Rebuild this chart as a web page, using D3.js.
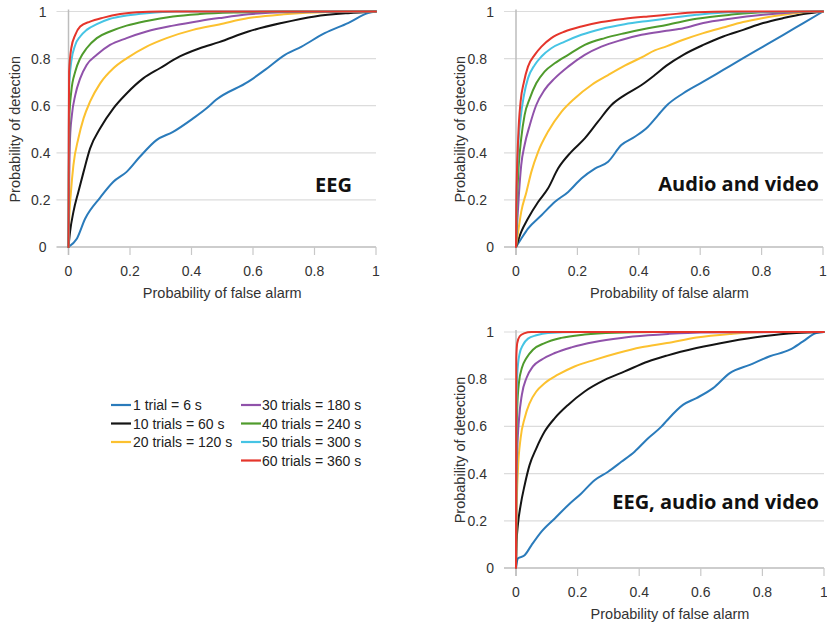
<!DOCTYPE html>
<html>
<head>
<meta charset="utf-8">
<script src="https://cdn.jsdelivr.net/npm/d3@7"></script>
<style>
  html, body { margin: 0; padding: 0; background: #fff; }
  svg { display: block; }
</style>
</head>
<body>
<svg id="chart" width="827" height="626"></svg>
<script>
// ---------------- DATA ----------------
const seriesLabels = ["1 trial = 6 s", "10 trials = 60 s", "20 trials = 120 s",
  "30 trials = 180 s", "40 trials = 240 s", "50 trials = 300 s", "60 trials = 360 s"];
const seriesColors = ["#2a7bbb", "#141414", "#fcc12f", "#9052aa", "#4f9b2c", "#46c4e4", "#e5352b"];
const axisTicks = [0, 0.2, 0.4, 0.6, 0.8, 1];
const tickLabels = ["0", "0.2", "0.4", "0.6", "0.8", "1"];
const panelTitles = ["EEG", "Audio and video", "EEG, audio and video"];
const xTitle = "Probability of false alarm";
const yTitle = "Probability of detection";

// Panel 1: EEG  ([false alarm, detection])
const eeg1 = [[0,0],[0.027,0.035],[0.054,0.12],[0.103,0.21],[0.146,0.277],[0.189,0.319],[0.232,0.383],[0.286,0.454],[0.34,0.489],[0.405,0.546],[0.449,0.589],[0.48,0.625],[0.585,0.702],[0.639,0.752],[0.704,0.816],[0.758,0.851],[0.833,0.908],[0.909,0.951],[0.974,0.993],[1,1]];
const eeg10 = [[0,0],[0.005,0.064],[0.016,0.149],[0.032,0.234],[0.049,0.319],[0.07,0.418],[0.103,0.504],[0.146,0.589],[0.189,0.652],[0.243,0.716],[0.297,0.759],[0.362,0.809],[0.427,0.844],[0.49,0.87],[0.585,0.915],[0.693,0.951],[0.801,0.979],[0.909,0.993],[1,1]];
const eeg20 = [[0,0],[0.002,0.106],[0.008,0.234],[0.016,0.348],[0.032,0.461],[0.049,0.546],[0.07,0.617],[0.103,0.695],[0.146,0.759],[0.189,0.801],[0.254,0.851],[0.319,0.887],[0.405,0.922],[0.49,0.945],[0.585,0.972],[0.7,0.988],[0.85,0.998],[1,1]];
const eeg30 = [[0,0],[0.002,0.25],[0.005,0.461],[0.011,0.56],[0.022,0.645],[0.038,0.716],[0.059,0.773],[0.092,0.816],[0.135,0.858],[0.189,0.887],[0.254,0.915],[0.34,0.94],[0.427,0.96],[0.49,0.972],[0.585,0.988],[0.7,0.997],[1,1]];
const eeg40 = [[0,0],[0.001,0.3],[0.003,0.56],[0.009,0.66],[0.022,0.745],[0.038,0.801],[0.059,0.844],[0.092,0.887],[0.135,0.915],[0.189,0.94],[0.254,0.96],[0.34,0.979],[0.427,0.989],[0.55,0.996],[0.7,1],[1,1]];
const eeg50 = [[0,0],[0.001,0.4],[0.002,0.674],[0.009,0.787],[0.022,0.858],[0.038,0.894],[0.059,0.922],[0.092,0.946],[0.135,0.969],[0.189,0.983],[0.254,0.993],[0.35,1],[1,1]];
const eeg60 = [[0,0],[0.001,0.5],[0.002,0.745],[0.009,0.844],[0.022,0.901],[0.038,0.936],[0.07,0.957],[0.114,0.974],[0.168,0.989],[0.222,0.997],[0.3,1],[1,1]];

// Panel 2: Audio and video
const av1 = [[0,0],[0.017,0.035],[0.039,0.078],[0.083,0.135],[0.126,0.191],[0.17,0.234],[0.213,0.291],[0.257,0.333],[0.3,0.362],[0.343,0.433],[0.387,0.468],[0.43,0.511],[0.463,0.56],[0.49,0.6],[0.545,0.653],[0.61,0.702],[0.675,0.752],[0.74,0.802],[0.805,0.851],[0.871,0.901],[0.936,0.951],[1,1]];
const av10 = [[0,0],[0.017,0.064],[0.039,0.121],[0.072,0.191],[0.104,0.248],[0.137,0.333],[0.18,0.404],[0.224,0.461],[0.267,0.532],[0.311,0.603],[0.354,0.645],[0.409,0.688],[0.452,0.73],[0.49,0.77],[0.545,0.816],[0.61,0.858],[0.675,0.894],[0.74,0.922],[0.805,0.951],[0.871,0.972],[0.936,0.989],[1,1]];
const av20 = [[0,0],[0.007,0.064],[0.017,0.149],[0.034,0.234],[0.05,0.319],[0.072,0.404],[0.104,0.489],[0.148,0.574],[0.191,0.631],[0.246,0.688],[0.3,0.73],[0.354,0.77],[0.409,0.805],[0.452,0.835],[0.49,0.852],[0.545,0.88],[0.61,0.908],[0.675,0.932],[0.74,0.955],[0.805,0.972],[0.871,0.986],[0.936,0.997],[1,1]];
const av30 = [[0,0],[0.004,0.106],[0.01,0.234],[0.017,0.348],[0.028,0.433],[0.045,0.518],[0.066,0.603],[0.093,0.667],[0.126,0.716],[0.17,0.766],[0.224,0.816],[0.278,0.851],[0.343,0.879],[0.409,0.901],[0.49,0.918],[0.545,0.929],[0.61,0.951],[0.697,0.969],[0.805,0.986],[0.91,0.997],[1,1]];
const av40 = [[0,0],[0.003,0.177],[0.009,0.348],[0.017,0.461],[0.028,0.56],[0.045,0.631],[0.066,0.695],[0.093,0.745],[0.126,0.78],[0.17,0.816],[0.224,0.858],[0.289,0.887],[0.354,0.908],[0.43,0.929],[0.49,0.943],[0.588,0.969],[0.697,0.986],[0.805,0.997],[1,1]];
const av50 = [[0,0],[0.002,0.2],[0.007,0.418],[0.015,0.546],[0.026,0.645],[0.039,0.716],[0.061,0.773],[0.083,0.809],[0.115,0.844],[0.159,0.872],[0.213,0.901],[0.278,0.926],[0.354,0.946],[0.43,0.96],[0.49,0.97],[0.588,0.986],[0.697,0.997],[1,1]];
const av60 = [[0,0],[0.001,0.177],[0.007,0.461],[0.015,0.617],[0.026,0.702],[0.039,0.766],[0.061,0.816],[0.083,0.851],[0.115,0.887],[0.159,0.915],[0.213,0.936],[0.278,0.955],[0.354,0.969],[0.43,0.979],[0.49,0.986],[0.588,0.997],[0.7,1],[1,1]];

// Panel 3: EEG, audio and video
const all1 = [[0,0],[0.006,0.04],[0.028,0.054],[0.05,0.096],[0.082,0.153],[0.126,0.21],[0.169,0.266],[0.212,0.316],[0.255,0.372],[0.299,0.408],[0.342,0.45],[0.385,0.493],[0.429,0.55],[0.472,0.599],[0.49,0.625],[0.542,0.691],[0.586,0.72],[0.64,0.762],[0.694,0.826],[0.759,0.861],[0.824,0.897],[0.889,0.925],[0.932,0.96],[0.975,0.996],[1,1]];
const all10 = [[0,0],[0.002,0.11],[0.006,0.181],[0.015,0.266],[0.028,0.351],[0.044,0.436],[0.066,0.507],[0.093,0.578],[0.126,0.635],[0.169,0.691],[0.223,0.748],[0.288,0.797],[0.353,0.833],[0.429,0.875],[0.49,0.9],[0.586,0.932],[0.694,0.96],[0.802,0.982],[0.91,0.996],[1,1]];
const all20 = [[0,0],[0.002,0.238],[0.006,0.408],[0.015,0.55],[0.028,0.635],[0.044,0.698],[0.066,0.748],[0.093,0.783],[0.136,0.819],[0.19,0.854],[0.255,0.882],[0.331,0.911],[0.407,0.935],[0.49,0.953],[0.586,0.977],[0.694,0.992],[0.8,1],[1,1]];
const all30 = [[0,0],[0.001,0.323],[0.004,0.493],[0.01,0.635],[0.019,0.734],[0.034,0.805],[0.055,0.854],[0.082,0.882],[0.126,0.911],[0.18,0.935],[0.255,0.958],[0.342,0.975],[0.429,0.986],[0.494,0.992],[0.6,0.998],[1,1]];
const all40 = [[0,0],[0.001,0.465],[0.004,0.677],[0.01,0.79],[0.019,0.847],[0.034,0.89],[0.055,0.925],[0.093,0.953],[0.147,0.975],[0.223,0.989],[0.32,0.997],[0.45,1],[1,1]];
const all50 = [[0,0],[0.001,0.606],[0.004,0.819],[0.011,0.904],[0.023,0.946],[0.039,0.972],[0.066,0.986],[0.104,0.996],[0.2,1],[1,1]];
const all60 = [[0,0],[0.001,0.89],[0.004,0.953],[0.012,0.982],[0.026,0.994],[0.05,1],[1,1]];

const panelSeries = [
  [eeg1, eeg10, eeg20, eeg30, eeg40, eeg50, eeg60],
  [av1, av10, av20, av30, av40, av50, av60],
  [all1, all10, all20, all30, all40, all50, all60]
];

// ---------------- LAYOUT ----------------
const panels = [
  { x0: 68.5, x1: 376, y0: 247, y1: 11.5, labGap: 18, intGap: 22, yTitleX: 15, titleRight: 352, titleBase: 192 },
  { x0: 516, x1: 823, y0: 247, y1: 11.5, labGap: 29, intGap: 22, yTitleX: 460, titleRight: 819, titleBase: 191 },
  { x0: 516, x1: 824, y0: 568, y1: 332, labGap: 29, intGap: 22, yTitleX: 460, titleRight: 819, titleBase: 509 }
];

const svg = d3.select("#chart");
const FONT = "'Liberation Sans', Arial, Helvetica, sans-serif";

panels.forEach((p, pi) => {
  const x = d3.scaleLinear().domain([0, 1]).range([p.x0, p.x1]);
  const y = d3.scaleLinear().domain([0, 1]).range([p.y0, p.y1]);
  const g = svg.append("g");

  // horizontal gridlines
  g.selectAll("line.grid").data(axisTicks.filter(t => t > 0)).join("line")
    .attr("x1", p.x0 - 12).attr("x2", p.x1)
    .attr("y1", d => y(d)).attr("y2", d => y(d))
    .attr("stroke", "#dcdcdc").attr("stroke-width", 1.2);

  // x axis baseline + ticks
  g.append("line").attr("x1", p.x0 - 12).attr("x2", p.x1).attr("y1", y(0)).attr("y2", y(0))
    .attr("stroke", "#bdbdbd").attr("stroke-width", 1.5);
  g.selectAll("line.xt").data(axisTicks).join("line")
    .attr("x1", d => x(d)).attr("x2", d => x(d))
    .attr("y1", y(0)).attr("y2", y(0) + 8)
    .attr("stroke", "#c8c8c8").attr("stroke-width", 1.2);
  // y axis line
  g.append("line").attr("x1", x(0)).attr("x2", x(0)).attr("y1", y(1) - 2).attr("y2", y(0) + 8)
    .attr("stroke", "#bdbdbd").attr("stroke-width", 1.5);

  // tick labels
  g.selectAll("text.xl").data(axisTicks).join("text")
    .attr("x", d => x(d)).attr("y", y(0) + 29)
    .attr("text-anchor", "middle").attr("font-family", FONT).attr("font-size", 14)
    .attr("fill", "#333").text((d, i) => tickLabels[i]);
  g.selectAll("text.yl").data(axisTicks).join("text")
    .attr("x", (d, i) => p.x0 - (Number.isInteger(d) ? p.intGap : p.labGap))
    .attr("y", d => y(d) + 5)
    .attr("text-anchor", "end").attr("font-family", FONT).attr("font-size", 14)
    .attr("fill", "#333").text((d, i) => tickLabels[i]);

  // axis titles
  g.append("text").attr("x", (p.x0 + p.x1) / 2).attr("y", y(0) + 51)
    .attr("text-anchor", "middle").attr("font-family", FONT).attr("font-size", 14.5)
    .attr("fill", "#333").text(xTitle);
  g.append("text")
    .attr("transform", `translate(${p.yTitleX + 5},${(p.y0 + p.y1) / 2}) rotate(-90)`)
    .attr("text-anchor", "middle").attr("font-family", FONT).attr("font-size", 14.5)
    .attr("fill", "#333").text(yTitle);

  // curves
  const line = d3.line().x(d => x(d[0])).y(d => y(d[1])).curve(d3.curveMonotoneX);
  panelSeries[pi].forEach((s, si) => {
    g.append("path").datum(s).attr("d", line)
      .attr("fill", "none").attr("stroke", seriesColors[si])
      .attr("stroke-width", 2).attr("stroke-linejoin", "round").attr("stroke-linecap", "round");
  });

  // panel title
  g.append("text").attr("x", p.titleRight).attr("y", p.titleBase)
    .attr("text-anchor", "end").attr("font-family", "'Open Sans', 'DejaVu Sans', sans-serif")
    .attr("font-weight", 700).attr("font-size", 20).attr("fill", "#111")
    .text(panelTitles[pi]);
});

// ---------------- LEGEND ----------------
const legendCols = [{ lx: 111, tx: 133 }, { lx: 241, tx: 262 }];
const legendRows = [405, 423.5, 442, 460.5];
const legendItems = seriesLabels.map((lab, i) => ({
  lab, color: seriesColors[i],
  col: i < 3 ? 0 : 1, row: i < 3 ? i : i - 3
}));
const lg = svg.append("g");
legendItems.forEach(it => {
  const c = legendCols[it.col], yy = legendRows[it.row];
  lg.append("line").attr("x1", c.lx).attr("x2", c.lx + 20).attr("y1", yy).attr("y2", yy)
    .attr("stroke", it.color).attr("stroke-width", 2.2);
  lg.append("text").attr("x", c.tx).attr("y", yy + 5)
    .attr("font-family", FONT).attr("font-size", 14).attr("fill", "#222").text(it.lab);
});
</script>
</body>
</html>
